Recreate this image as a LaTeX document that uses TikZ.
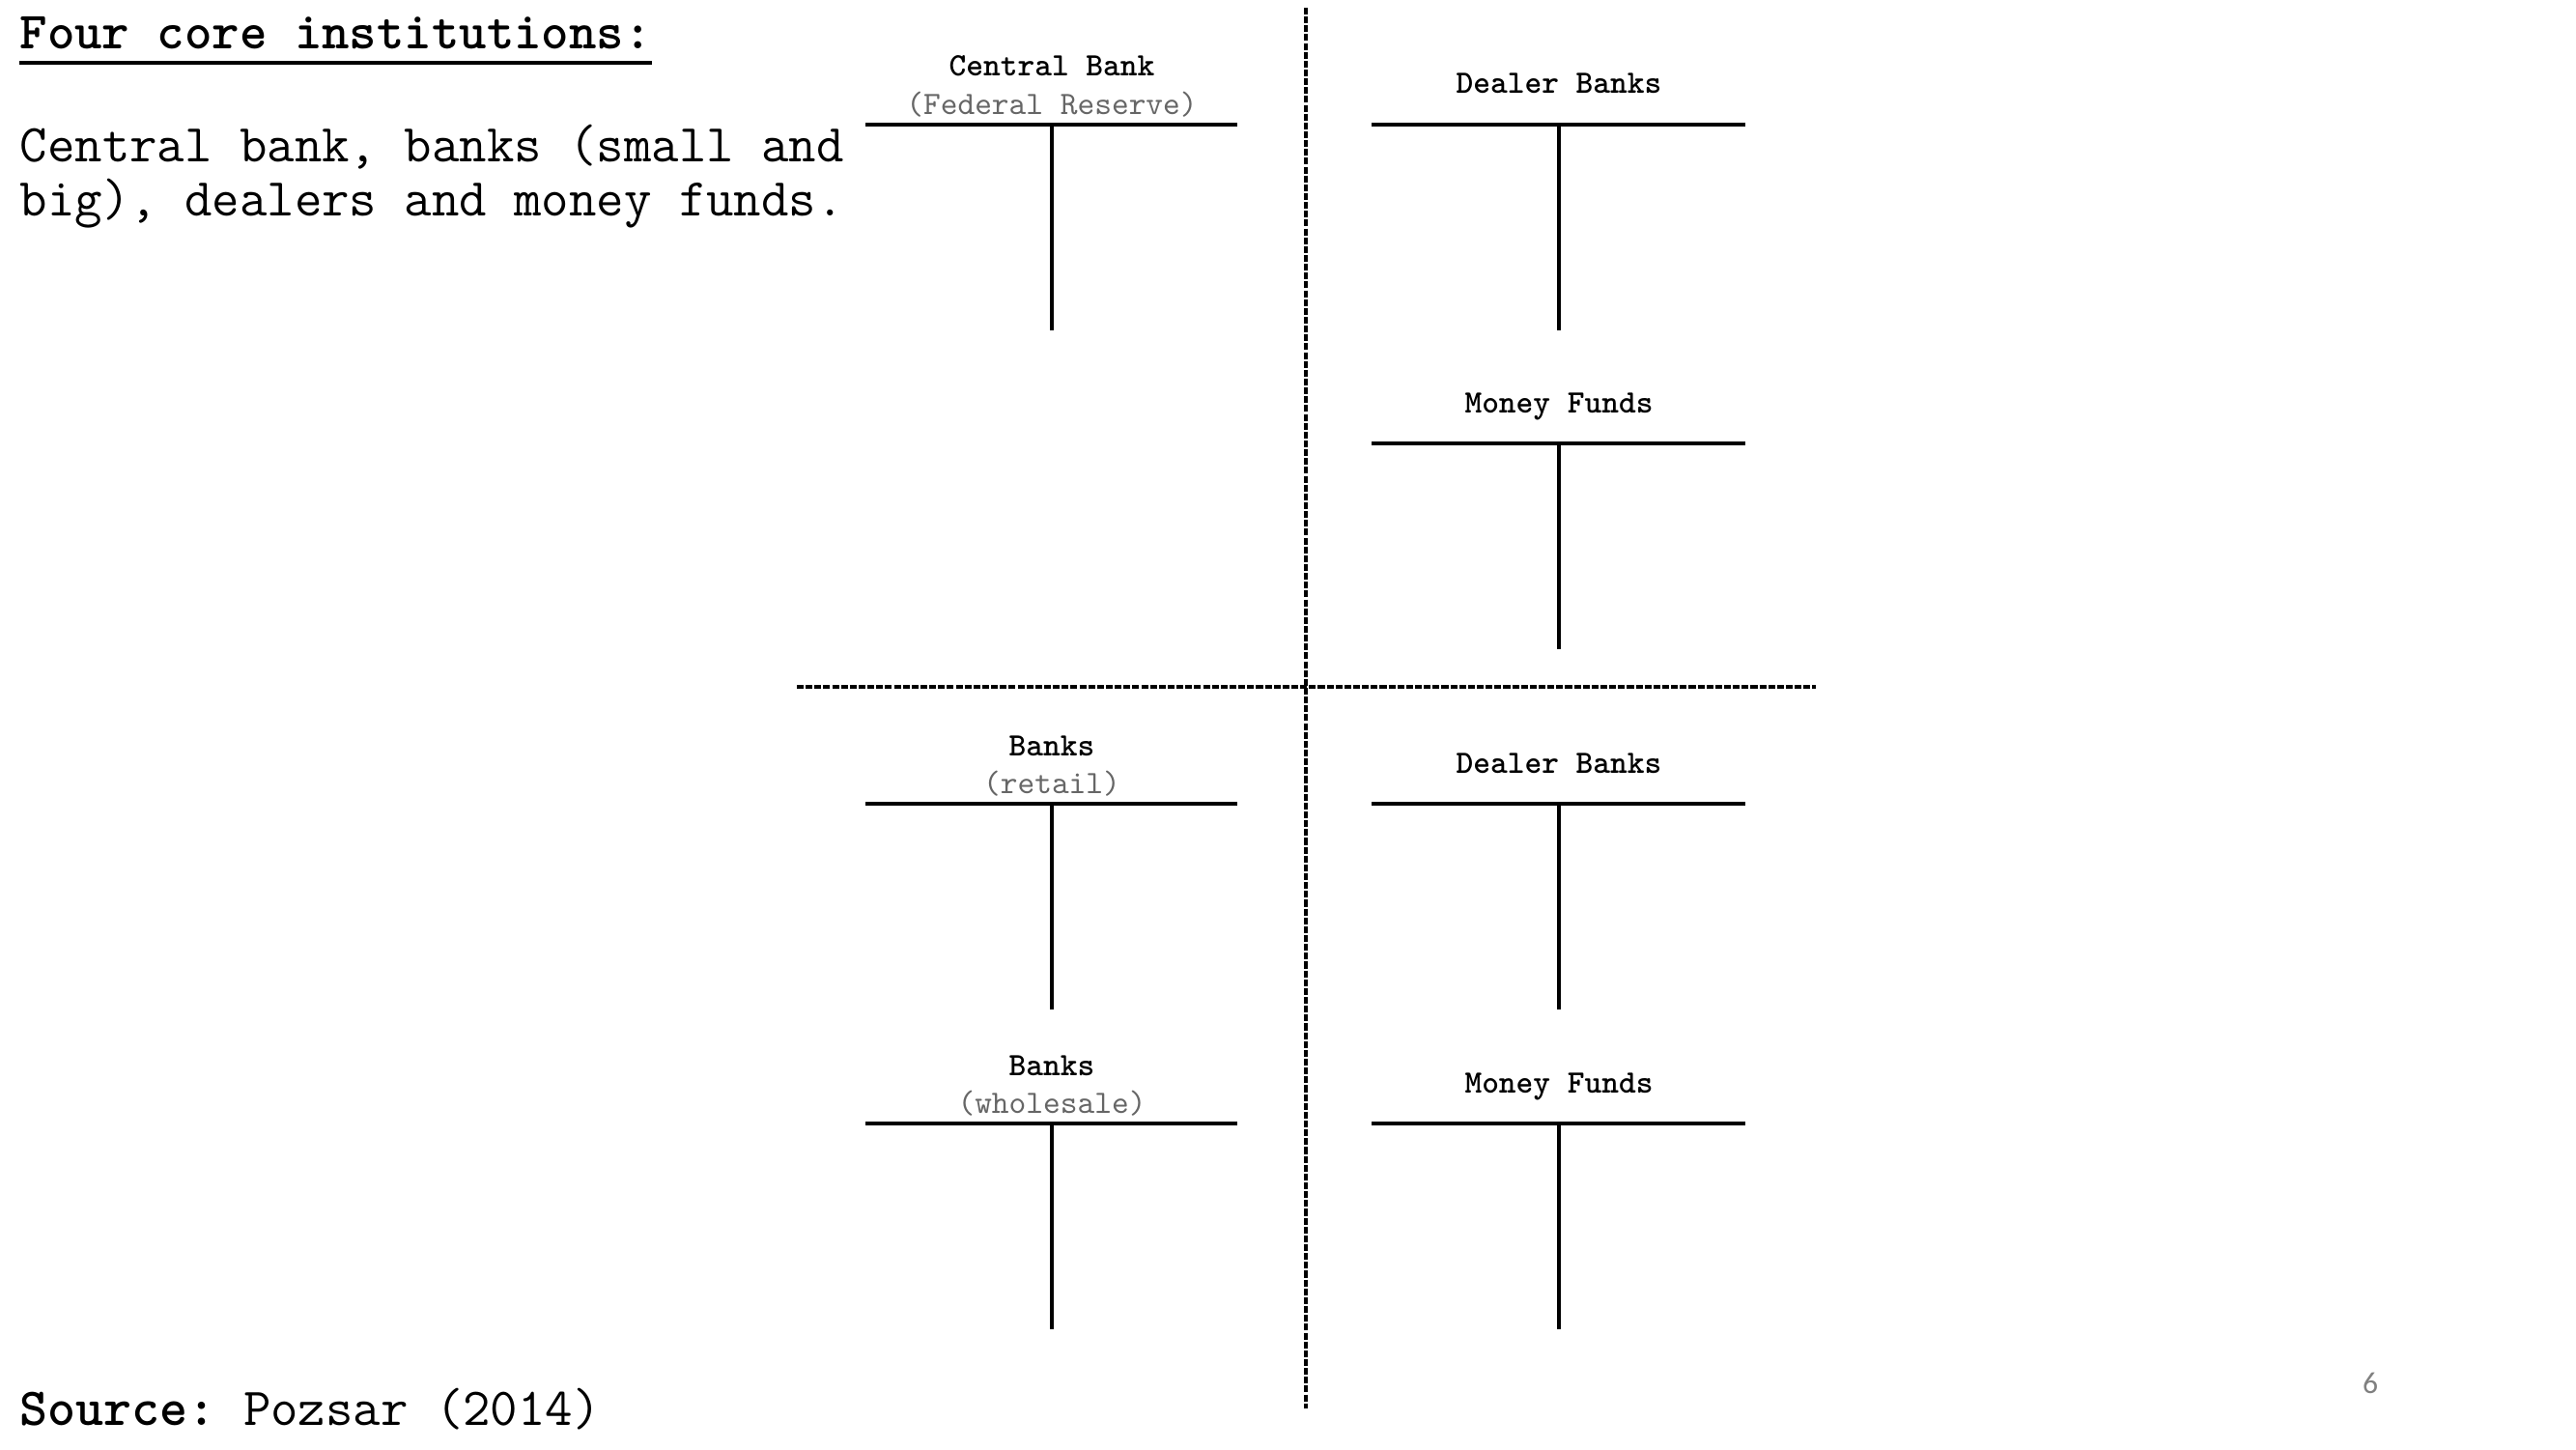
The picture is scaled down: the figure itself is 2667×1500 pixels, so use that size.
\documentclass[tikz,border=0pt]{standalone}
\usepackage{fontspec}
\newfontfamily\numfont{Carlito}
\usetikzlibrary{calc}

\begin{document}
\frenchspacing
\begin{tikzpicture}[x=0.01cm,y=-0.01cm]
\tikzstyle{txt}=[inner sep=0pt, anchor=base west, font=\ttfamily\fontsize{15.7}{18}\selectfont]
\tikzstyle{ttl}=[inner sep=0pt, anchor=base, font=\ttfamily\bfseries\fontsize{9.6}{11}\selectfont]
\tikzstyle{sub}=[inner sep=0pt, anchor=base, text=black!60, font=\ttfamily\fontsize{9.6}{11}\selectfont]
\tikzstyle{tline}=[line width=1pt]
\tikzstyle{divider}=[line width=1pt, dash pattern=on 2pt off 0.6pt]

\useasboundingbox (0,0) rectangle (2667,1500);

% left column text
\node[txt, font=\ttfamily\bfseries\fontsize{15.4}{18}\selectfont] (heading) at (20,51) {Four core institutions:};
\draw[line width=1.2pt] ($(heading.base west)+(0,14)$) -- ($(heading.base east)+(0,14)$);
\node[txt] (introA) at (20,168) {Central bank, banks (small and};
\node[txt] (introB) at (20,224) {big), dealers and money funds.};
\node[txt] (source) at (20,1475) {\textbf{Source:} Pozsar (2014)};

% dividers
\coordinate (vTop) at (1352,8);
\coordinate (vBot) at (1352,1458);
\coordinate (hLeft) at (825,711);
\coordinate (hRight) at (1880,711);
\draw[divider] (vTop) -- (vBot);
\draw[divider] (hLeft) -- (hRight);

% central bank
\node[ttl] (cbank) at (1089,79) {Central Bank};
\node[sub] (cbsub) at (1089,119) {(Federal Reserve)};
\coordinate (cbL) at (896,129);
\coordinate (cbR) at (1281,129);
\coordinate (cbT) at (1089,129);
\coordinate (cbB) at (1089,342);
\draw[tline] (cbL) -- (cbR);
\draw[tline] (cbT) -- (cbB);

% dealer banks (top)
\node[ttl] (dealA) at (1614,97) {Dealer Banks};
\coordinate (daL) at (1420,129);
\coordinate (daR) at (1807,129);
\coordinate (daT) at (1614,129);
\coordinate (daB) at (1614,342);
\draw[tline] (daL) -- (daR);
\draw[tline] (daT) -- (daB);

% money funds (top)
\node[ttl] (mfundA) at (1614,427) {Money Funds};
\coordinate (maL) at (1420,459);
\coordinate (maR) at (1807,459);
\coordinate (maT) at (1614,459);
\coordinate (maB) at (1614,672);
\draw[tline] (maL) -- (maR);
\draw[tline] (maT) -- (maB);

% banks (retail)
\node[ttl] (bretail) at (1089,782) {Banks};
\node[sub] (brsub) at (1089,821) {(retail)};
\coordinate (brL) at (896,832);
\coordinate (brR) at (1281,832);
\coordinate (brT) at (1089,832);
\coordinate (brB) at (1089,1045);
\draw[tline] (brL) -- (brR);
\draw[tline] (brT) -- (brB);

% dealer banks (bottom)
\node[ttl] (dealB) at (1614,800) {Dealer Banks};
\coordinate (dbL) at (1420,832);
\coordinate (dbR) at (1807,832);
\coordinate (dbT) at (1614,832);
\coordinate (dbB) at (1614,1045);
\draw[tline] (dbL) -- (dbR);
\draw[tline] (dbT) -- (dbB);

% banks (wholesale)
\node[ttl] (bwhole) at (1089,1113) {Banks};
\node[sub] (bwsub) at (1089,1152) {(wholesale)};
\coordinate (bwL) at (896,1163);
\coordinate (bwR) at (1281,1163);
\coordinate (bwT) at (1089,1163);
\coordinate (bwB) at (1089,1376);
\draw[tline] (bwL) -- (bwR);
\draw[tline] (bwT) -- (bwB);

% money funds (bottom)
\node[ttl] (mfundB) at (1614,1131) {Money Funds};
\coordinate (mbL) at (1420,1163);
\coordinate (mbR) at (1807,1163);
\coordinate (mbT) at (1614,1163);
\coordinate (mbB) at (1614,1376);
\draw[tline] (mbL) -- (mbR);
\draw[tline] (mbT) -- (mbB);

\node[text=black!50, inner sep=0pt, font=\numfont\fontsize{9}{10}\selectfont] (pagenum) at (2454,1432) {6};
\end{tikzpicture}
\end{document}
